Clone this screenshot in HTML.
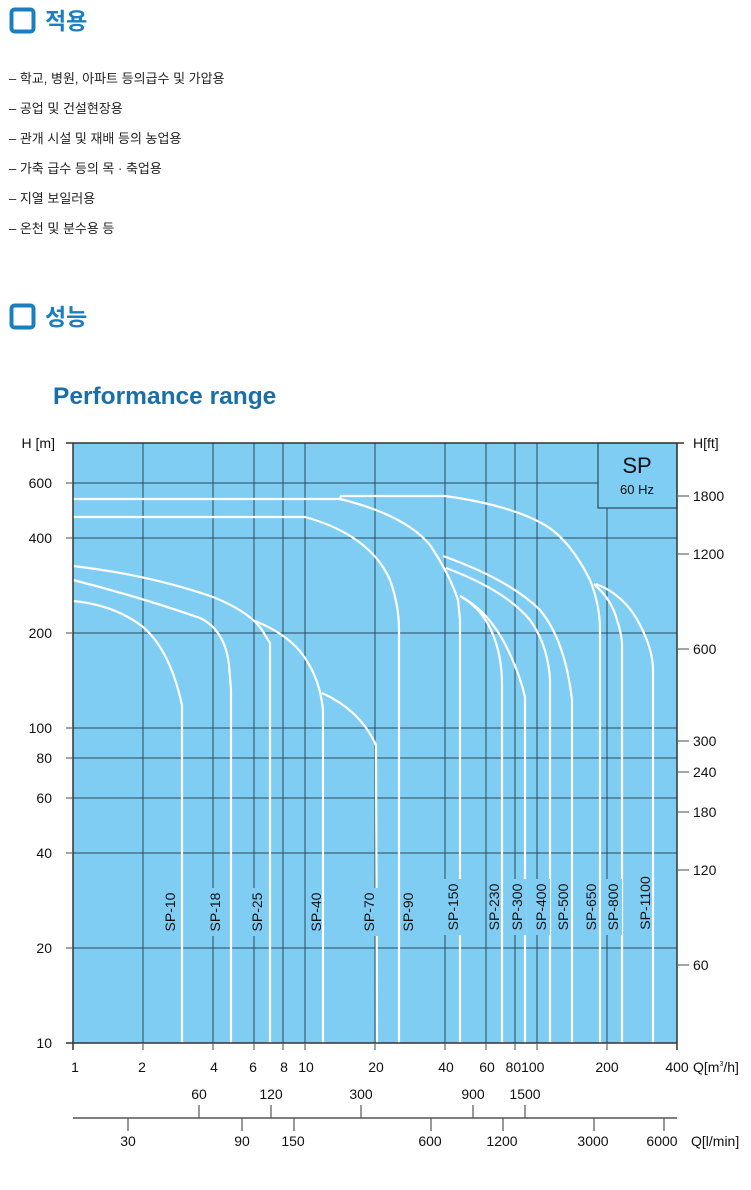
<!DOCTYPE html>
<html><head><meta charset="utf-8"><style>
html,body{margin:0;padding:0;background:#fff;width:751px;height:1190px;overflow:hidden}
svg{display:block}
</style></head><body>
<svg width="751" height="1190" xmlns="http://www.w3.org/2000/svg" font-family="Liberation Sans, Noto Sans CJK KR, sans-serif">
<!-- headers -->
<rect x="11.5" y="9.5" width="22" height="22" rx="3" fill="#fff" stroke="#1a7fc1" stroke-width="4"/>
<text x="45" y="29" font-size="23" font-weight="bold" fill="#1a7fc1" font-family="Liberation Sans, Noto Sans CJK KR, sans-serif">적용</text>
<g font-size="13" fill="#222">
<text x="9" y="83">– 학교, 병원, 아파트 등의급수 및 가압용</text>
<text x="9" y="113">– 공업 및 건설현장용</text>
<text x="9" y="143">– 관개 시설 및 재배 등의 농업용</text>
<text x="9" y="173">– 가축 급수 등의 목 · 축업용</text>
<text x="9" y="203">– 지열 보일러용</text>
<text x="9" y="233">– 온천 및 분수용 등</text>
</g>
<rect x="11.5" y="305.5" width="22" height="22" rx="3" fill="#fff" stroke="#1a7fc1" stroke-width="4"/>
<text x="45" y="325" font-size="23" font-weight="bold" fill="#1a7fc1">성능</text>
<text x="53" y="404" font-size="24.5" font-weight="bold" fill="#1a6fa8">Performance range</text>

<!-- plot -->
<rect x="73" y="443" width="604" height="600" fill="#7fcdf2"/>
<g stroke="#2a4a5a" stroke-width="1">
<line x1="143" y1="443" x2="143" y2="1043"/><line x1="213" y1="443" x2="213" y2="1043"/><line x1="254" y1="443" x2="254" y2="1043"/><line x1="283" y1="443" x2="283" y2="1043"/><line x1="305" y1="443" x2="305" y2="1043"/><line x1="375" y1="443" x2="375" y2="1043"/><line x1="445" y1="443" x2="445" y2="1043"/><line x1="486" y1="443" x2="486" y2="1043"/><line x1="515" y1="443" x2="515" y2="1043"/><line x1="537" y1="443" x2="537" y2="1043"/><line x1="607" y1="443" x2="607" y2="1043"/>
<line x1="73" y1="483" x2="677" y2="483"/><line x1="73" y1="538" x2="677" y2="538"/><line x1="73" y1="633" x2="677" y2="633"/><line x1="73" y1="728" x2="677" y2="728"/><line x1="73" y1="758" x2="677" y2="758"/><line x1="73" y1="798" x2="677" y2="798"/><line x1="73" y1="853" x2="677" y2="853"/><line x1="73" y1="948" x2="677" y2="948"/>
</g>
<rect x="598" y="443" width="79" height="65" fill="#7fcdf2" stroke="#2a4a5a" stroke-width="1.2"/>
<text x="637" y="473" font-size="22" text-anchor="middle" fill="#111">SP</text>
<text x="637" y="494" font-size="13" text-anchor="middle" fill="#111">60 Hz</text>
<!-- curves -->
<g fill="none" stroke="#fff" stroke-width="2.2">
<path d="M73,601 Q115,605 143,627 Q170,650 182,705 L182,1043"/>
<path d="M73,580 Q140,597 200,618 Q225,630 229,665 L231,690 L231,1043"/>
<path d="M73,566 Q150,575 213,597 Q250,612 262,630 L270,643 L270,1043"/>
<path d="M255,621 Q290,635 305,658 Q320,680 323,710 L323,1043"/>
<path d="M322,693 Q360,710 376,745 L377,1043"/>
<path d="M73,517 L305,517 Q370,535 390,580 Q399,605 399,630 L399,1043"/>
<path d="M73,499 L340,499 Q405,515 430,545 Q450,575 458,600 L460,620 L460,1043"/>
<path d="M340,499 L341,496 L445,496 Q510,505 545,525 Q570,540 590,580 Q600,605 600,630 L600,1043"/>
<path d="M460,596 Q485,610 495,640 Q502,660 502,685 L502,1043"/>
<path d="M460,596 Q490,612 508,650 Q520,675 525,697 L525,1043"/>
<path d="M446,568 Q505,590 530,620 Q548,645 550,680 L550,1043"/>
<path d="M443,556 Q510,580 540,610 Q565,640 572,700 L572,1043"/>
<path d="M594,584 Q612,600 617,620 Q622,635 622,645 L622,1043"/>
<path d="M596,584 Q625,595 640,625 Q653,650 653,670 L653,1043"/>
</g>
<!-- labels -->
<g font-size="14" fill="#111">
<g transform="translate(175,912) rotate(-90)"><rect x="-24" y="-14" width="48" height="18" fill="#7fcdf2"/><text text-anchor="middle">SP-10</text></g>
<g transform="translate(220,912) rotate(-90)"><rect x="-24" y="-14" width="48" height="18" fill="#7fcdf2"/><text text-anchor="middle">SP-18</text></g>
<g transform="translate(262,912) rotate(-90)"><rect x="-24" y="-14" width="48" height="18" fill="#7fcdf2"/><text text-anchor="middle">SP-25</text></g>
<g transform="translate(321,912) rotate(-90)"><text text-anchor="middle">SP-40</text></g>
<g transform="translate(374,912) rotate(-90)"><rect x="-24" y="-14" width="48" height="18" fill="#7fcdf2"/><text text-anchor="middle">SP-70</text></g>
<g transform="translate(413,912) rotate(-90)"><text text-anchor="middle">SP-90</text></g>
<g transform="translate(458,907) rotate(-90)"><rect x="-28" y="-14" width="56" height="18" fill="#7fcdf2"/><text text-anchor="middle">SP-150</text></g>
<g transform="translate(499,907) rotate(-90)"><text text-anchor="middle">SP-230</text></g>
<g transform="translate(522,907) rotate(-90)"><rect x="-28" y="-14" width="56" height="18" fill="#7fcdf2"/><text text-anchor="middle">SP-300</text></g>
<g transform="translate(546,907) rotate(-90)"><rect x="-28" y="-14" width="56" height="18" fill="#7fcdf2"/><text text-anchor="middle">SP-400</text></g>
<g transform="translate(568,907) rotate(-90)"><text text-anchor="middle">SP-500</text></g>
<g transform="translate(596,907) rotate(-90)"><text text-anchor="middle">SP-650</text></g>
<g transform="translate(618,907) rotate(-90)"><rect x="-28" y="-14" width="56" height="18" fill="#7fcdf2"/><text text-anchor="middle">SP-800</text></g>
<g transform="translate(650,903) rotate(-90)"><text text-anchor="middle">SP-1100</text></g>
</g>
<!-- frame -->
<g stroke="#333" stroke-width="1.5" fill="none">
<line x1="73" y1="443" x2="73" y2="1050"/><line x1="677" y1="443" x2="677" y2="1050"/>
<line x1="66" y1="443" x2="684" y2="443"/><line x1="66" y1="1043" x2="677" y2="1043"/>
</g>
<g stroke="#666" stroke-width="1.2">
<line x1="66" y1="483" x2="73" y2="483"/><line x1="66" y1="538" x2="73" y2="538"/><line x1="66" y1="633" x2="73" y2="633"/><line x1="66" y1="728" x2="73" y2="728"/><line x1="66" y1="758" x2="73" y2="758"/><line x1="66" y1="798" x2="73" y2="798"/><line x1="66" y1="853" x2="73" y2="853"/><line x1="66" y1="948" x2="73" y2="948"/>
<line x1="677" y1="496" x2="689" y2="496"/><line x1="677" y1="554" x2="689" y2="554"/><line x1="677" y1="649" x2="689" y2="649"/><line x1="677" y1="741" x2="689" y2="741"/><line x1="677" y1="772" x2="689" y2="772"/><line x1="677" y1="812" x2="689" y2="812"/><line x1="677" y1="870" x2="689" y2="870"/><line x1="677" y1="965" x2="689" y2="965"/>
<line x1="143" y1="1043" x2="143" y2="1050"/><line x1="213" y1="1043" x2="213" y2="1050"/><line x1="254" y1="1043" x2="254" y2="1050"/><line x1="283" y1="1043" x2="283" y2="1050"/><line x1="305" y1="1043" x2="305" y2="1050"/><line x1="375" y1="1043" x2="375" y2="1050"/><line x1="445" y1="1043" x2="445" y2="1050"/><line x1="486" y1="1043" x2="486" y2="1050"/><line x1="515" y1="1043" x2="515" y2="1050"/><line x1="537" y1="1043" x2="537" y2="1050"/><line x1="607" y1="1043" x2="607" y2="1050"/>
</g>
<g font-size="14" fill="#111" text-anchor="end">
<text x="55" y="448">H [m]</text>
<text x="52" y="488">600</text><text x="52" y="543">400</text><text x="52" y="638">200</text><text x="52" y="733">100</text><text x="52" y="763">80</text><text x="52" y="803">60</text><text x="52" y="858">40</text><text x="52" y="953">20</text><text x="52" y="1048">10</text>
</g>
<g font-size="14" fill="#111">
<text x="693" y="448">H[ft]</text>
<text x="693" y="501">1800</text><text x="693" y="559">1200</text><text x="693" y="654">600</text><text x="693" y="746">300</text><text x="693" y="777">240</text><text x="693" y="817">180</text><text x="693" y="875">120</text><text x="693" y="970">60</text>
</g>
<g font-size="14" fill="#111" text-anchor="middle">
<text x="75" y="1072">1</text><text x="142" y="1072">2</text><text x="214" y="1072">4</text><text x="253" y="1072">6</text><text x="284" y="1072">8</text><text x="306" y="1072">10</text><text x="376" y="1072">20</text><text x="446" y="1072">40</text><text x="487" y="1072">60</text><text x="525" y="1072">80100</text><text x="607" y="1072">200</text><text x="677" y="1072">400</text>
</g>
<text x="693" y="1072" font-size="14" fill="#111">Q[m<tspan font-size="7" dy="-6">3</tspan><tspan dy="6">/h]</tspan></text>
<line x1="73" y1="1118" x2="677" y2="1118" stroke="#555" stroke-width="1.5"/>
<g stroke="#555" stroke-width="1.2">
<line x1="199" y1="1105" x2="199" y2="1118"/><line x1="271" y1="1105" x2="271" y2="1118"/><line x1="361" y1="1105" x2="361" y2="1118"/><line x1="473" y1="1105" x2="473" y2="1118"/><line x1="525" y1="1105" x2="525" y2="1118"/>
<line x1="128" y1="1118" x2="128" y2="1131"/><line x1="242" y1="1118" x2="242" y2="1131"/><line x1="294" y1="1118" x2="294" y2="1131"/><line x1="431" y1="1118" x2="431" y2="1131"/><line x1="503" y1="1118" x2="503" y2="1131"/><line x1="594" y1="1118" x2="594" y2="1131"/><line x1="664" y1="1118" x2="664" y2="1131"/>
</g>
<g font-size="14" fill="#111" text-anchor="middle">
<text x="199" y="1099">60</text><text x="271" y="1099">120</text><text x="361" y="1099">300</text><text x="473" y="1099">900</text><text x="525" y="1099">1500</text>
<text x="128" y="1146">30</text><text x="242" y="1146">90</text><text x="293" y="1146">150</text><text x="430" y="1146">600</text><text x="502" y="1146">1200</text><text x="593" y="1146">3000</text><text x="662" y="1146">6000</text>
</g>
<text x="691" y="1146" font-size="14" fill="#111">Q[l/min]</text>
</svg>
</body></html>
